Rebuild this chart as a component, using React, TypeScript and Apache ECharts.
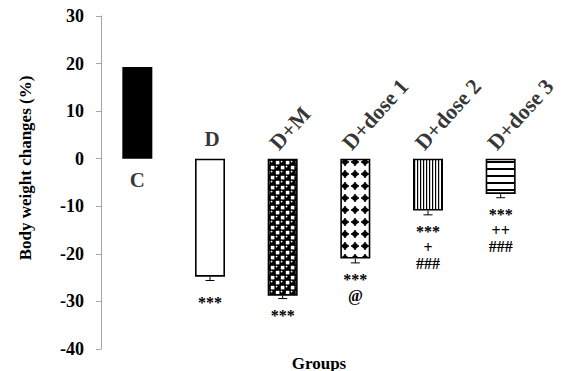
import React, { useEffect, useRef } from 'react';
import * as echarts from 'echarts';

const categories = ['C', 'D', 'D+M', 'D+dose 1', 'D+dose 2', 'D+dose 3'];
const values = [19.3, -24.8, -28.8, -21.0, -10.9, -7.4];
const errors = [0, 0.8, 0.6, 0.9, 0.9, 0.8];
const significance = ['', '***', '***', '***\n@', '***\n+\n###', '***\n++\n###'];
const yMin = -40;
const yMax = 30;
const yInterval = 10;
const yAxisTitle = 'Body weight changes (%)';
const xAxisTitle = 'Groups';

const FONT = '"Liberation Serif", "Times New Roman", serif';

function makeCanvas(w: number, h: number, draw: (c: CanvasRenderingContext2D) => void) {
  const cv = document.createElement('canvas');
  cv.width = w;
  cv.height = h;
  const ctx = cv.getContext('2d')!;
  draw(ctx);
  return cv;
}

function patterns() {
  const checker = makeCanvas(10, 10, (c) => {
    c.fillStyle = '#000';
    c.fillRect(0, 0, 10, 10);
    c.fillStyle = '#fff';
    c.fillRect(5.8, 0.8, 3.6, 3.6);
    c.fillRect(0.8, 5.8, 3.6, 3.6);
    c.beginPath(); c.arc(1.6, 1.6, 0.9, 0, Math.PI * 2); c.fill();
    c.beginPath(); c.arc(6.6, 6.6, 0.9, 0, Math.PI * 2); c.fill();
  });
  const dots = makeCanvas(10, 12, (c) => {
    c.fillStyle = '#fff';
    c.fillRect(0, 0, 10, 12);
    c.fillStyle = '#000';
    c.beginPath(); c.arc(5, 6, 2.8, 0, Math.PI * 2); c.fill();
    c.fillRect(4.2, 2, 1.6, 8);
    c.fillRect(1, 5.2, 8, 1.6);
  });
  const vlines = makeCanvas(3, 10, (c) => {
    c.fillStyle = '#fff';
    c.fillRect(0, 0, 3, 10);
    c.fillStyle = '#000';
    c.fillRect(0, 0, 1.2, 10);
  });
  const hlines = makeCanvas(10, 7, (c) => {
    c.fillStyle = '#fff';
    c.fillRect(0, 0, 10, 7);
    c.fillStyle = '#000';
    c.fillRect(0, 0, 10, 2);
  });
  return [
    '#000',
    '#fff',
    { image: checker, repeat: 'repeat' },
    { image: dots, repeat: 'repeat' },
    { image: vlines, repeat: 'repeat' },
    { image: hlines, repeat: 'repeat' },
  ];
}

function catLabel(i: number) {
  const base = { show: true, color: '#000', fontFamily: FONT, fontWeight: 'bold', formatter: '{b}' };
  if (i === 0) {
    return { ...base, fontSize: 21, position: 'inside', offset: [0, 21], align: 'center', verticalAlign: 'middle' };
  }
  if (i === 1) {
    return { ...base, fontSize: 21, position: 'inside', offset: [2, -20], align: 'center', verticalAlign: 'middle' };
  }
  return {
    ...base,
    fontSize: 22,
    position: 'inside',
    rotate: 48,
    offset: [3, -4],
    align: 'left',
    verticalAlign: 'bottom',
  };
}

export default function App() {
  const ref = useRef<HTMLDivElement>(null);
  useEffect(() => {
    if (!ref.current) return;
    const chart = echarts.init(ref.current, undefined, { renderer: 'svg' });
    const fills = patterns();
    const option: any = {
      animation: false,
      backgroundColor: '#fff',
      grid: { left: 101, right: 34, top: 16, bottom: 22, containLabel: false },
      xAxis: {
        type: 'category',
        data: categories,
        show: false,
      },
      yAxis: {
        type: 'value',
        min: yMin,
        max: yMax,
        interval: yInterval,
        axisLine: { show: true, lineStyle: { color: '#a6a6a6', width: 1 } },
        axisTick: { show: true, length: 5, lineStyle: { color: '#a6a6a6' } },
        axisLabel: { fontFamily: FONT, fontWeight: 'bold', fontSize: 18, color: '#000', margin: 17 },
        splitLine: { show: false },
      },
      graphic: [
        {
          type: 'text',
          x: 319,
          y: 363,
          style: { text: xAxisTitle, font: `bold 17px ${FONT}`, fill: '#000', align: 'center', verticalAlign: 'middle' },
        },
        {
          type: 'group',
          x: 25,
          y: 168,
          rotation: Math.PI / 2,
          children: [
            {
              type: 'text',
              x: 0,
              y: 0,
              style: { text: yAxisTitle, font: `bold 17px ${FONT}`, fill: '#000', align: 'center', verticalAlign: 'middle' },
            },
          ],
        },
      ],
      series: [
        {
          type: 'bar',
          barWidth: 30,
          data: values.map((v, i) => ({
            value: v,
            itemStyle: { color: fills[i], borderColor: '#000', borderWidth: 1.6 },
          })),
        },
        {
          type: 'custom',
          data: values.map((v, i) => [i, v, errors[i]]),
          renderItem: (params: any, api: any) => {
            const i = api.value(0);
            const v = api.value(1);
            const e = api.value(2);
            if (!e) return null;
            const end = v < 0 ? v - e : v + e;
            const p0 = api.coord([i, v]);
            const p1 = api.coord([i, end]);
            const st = { stroke: '#000', lineWidth: 1 };
            return {
              type: 'group',
              children: [
                { type: 'line', shape: { x1: p0[0], y1: p0[1], x2: p1[0], y2: p1[1] }, style: st },
                { type: 'line', shape: { x1: p1[0] - 4.5, y1: p1[1], x2: p1[0] + 4.5, y2: p1[1] }, style: st },
              ],
            };
          },
          z: 3,
        },
        {
          type: 'custom',
          data: values.map((v, i) => [i, v, errors[i]]),
          renderItem: (params: any, api: any) => {
            const i = api.value(0);
            const v = api.value(1);
            const e = api.value(2);
            const text = significance[i];
            if (!text) return null;
            const p = api.coord([i, v - e]);
            return {
              type: 'text',
              x: p[0],
              y: p[1] + (i === 1 ? 14 : 9),
              style: {
                text,
                font: `bold 16px ${FONT}`,
                lineHeight: 16,
                fill: '#000',
                align: 'center',
                verticalAlign: 'top',
              },
            };
          },
          z: 3,
        },
        {
          type: 'scatter',
          symbolSize: 0,
          silent: true,
          z: 5,
          data: categories.map((c, i) => ({ name: c, value: [i, 0], label: catLabel(i) })),
        },
      ],
    };
    chart.setOption(option);
    return () => chart.dispose();
  }, []);
  return <div ref={ref} style={{ width: 571, height: 371, position: 'absolute', left: 0, top: 0 }} />;
}
